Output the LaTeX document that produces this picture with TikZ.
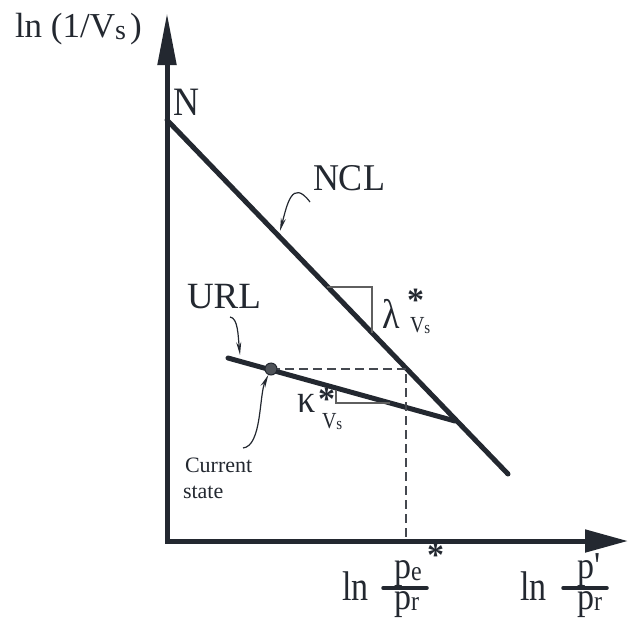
\documentclass[tikz,border=0pt]{standalone}
\usepackage{fontspec}
\setmainfont{Liberation Serif}
\usepackage{graphicx}
\usetikzlibrary{arrows.meta}
\definecolor{ink}{RGB}{35,40,48}
\definecolor{thin}{RGB}{95,95,95}
\newcommand{\fs}[1]{\fontsize{#1}{#1}\selectfont}
\newcommand{\vst}[2]{\scalebox{1}[#1]{#2}}
\begin{document}
\begin{tikzpicture}[x=1pt,y=-1pt,
  lbl/.style={inner sep=0pt, outer sep=0pt, anchor=base west, text=ink},
  mainline/.style={draw=ink, line width=5pt, line cap=round},
  axisline/.style={draw=ink, line width=5pt, line join=miter},
  guide/.style={draw=thin, line width=1.2pt},
  dashline/.style={draw=ink!85, line width=1.3pt, dash pattern=on 9pt off 5pt},
  fracbar/.style={draw=ink, line width=3.5pt, line cap=round},
  pointer/.style={draw=ink, line width=1.2pt, -{Stealth[length=13pt,width=5pt]}},
  statept/.style={circle, minimum size=12pt, inner sep=0pt, fill=ink!80, draw=ink, line width=1pt}
]
\useasboundingbox (0,0) rectangle (631,619);

% axes
\coordinate (O) at (167,541);
\coordinate (Ytip) at (167,13);
\coordinate (Xtip) at (628,541);
\draw[axisline, {Triangle[length=52pt,width=18pt]}-{Triangle[length=43pt,width=22pt]}] (Ytip) -- (O) -- (Xtip);

% NCL and URL
\coordinate (Nstart) at (167,120);
\coordinate (Nend) at (508,474);
\coordinate (Ustart) at (228,358);
\coordinate (Umeet) at (455,421);
\draw[mainline] (Nstart) -- (Nend);
\draw[mainline] (Ustart) -- (Umeet);

% slope triangles
\coordinate (la1) at (327,287);
\coordinate (la2) at (372,287);
\coordinate (la3) at (372,333);
\draw[guide] (la1) -- (la2) -- (la3);
\coordinate (ka1) at (336,390);
\coordinate (ka2) at (336,403);
\coordinate (ka3) at (390,403);
\draw[guide] (ka1) -- (ka2) -- (ka3);

% dashed projection
\coordinate (dc) at (406,369);
\coordinate (dx) at (406,541);
\coordinate (dstart) at (271,369);
\draw[dashline] (dstart) -- (dc) -- (dx);

% current state point
\node[statept] (st) at (271,369) {};

% labels
\node[lbl] (ylab) at (15,37) {\fs{35}ln (1/V{\fs{28}\raisebox{-2pt}{s}}\kern4pt)};
\node[lbl] (N) at (173,115) {\fs{36}\vst{1.12}{N}};
\node[lbl] (ncl) at (313,190) {\fs{36}\vst{1.05}{NCL}};
\node[lbl] (url) at (187,308) {\fs{37}URL};
\node[lbl] (lam) at (382,328) {\fs{36}\vst{1.15}{λ}};
\node[lbl] (lamst) at (407,311) {\fs{34}\bfseries *};
\node[lbl] (lamsub) at (410,332) {\fs{20}\vst{1.15}{V{\fs{15}\raisebox{-1pt}{s}}}};
\node[lbl] (kap) at (297,412) {\fs{36}\vst{1.1}{κ}};
\node[lbl] (kapst) at (318,410) {\fs{34}\bfseries *};
\node[lbl] (kapsub) at (322,428) {\fs{20}\vst{1.15}{V{\fs{15}\raisebox{-1pt}{s}}}};
\node[lbl] (cur) at (185,472) {\fs{22}Current};
\node[lbl] (sta) at (183,498) {\fs{22}state};

% bottom labels
\node[lbl] (ln1) at (342,600) {\fs{34}\vst{1.22}{ln}};
\node[lbl] (pe) at (394,578) {\fs{34}\vst{1.12}{p}{\fs{24}\raisebox{-2pt}{\vst{1.15}{e}}}};
\node[lbl] (pest) at (427,566) {\fs{34}\bfseries *};
\node[lbl] (pr1) at (394,609) {\fs{34}\vst{1.12}{p}{\fs{24}\raisebox{-1pt}{\vst{1.15}{r}}}};
\coordinate (b1a) at (383,588);
\coordinate (b1b) at (427,588);
\draw[fracbar] (b1a) -- (b1b);

\node[lbl] (ln2) at (520,600) {\fs{34}\vst{1.22}{ln}};
\node[lbl] (pp) at (577,578) {\fs{34}\vst{1.12}{p\kern1pt\textquotesingle}};
\node[lbl] (pr2) at (577,609) {\fs{34}\vst{1.12}{p}{\fs{24}\raisebox{-1pt}{\vst{1.15}{r}}}};
\coordinate (b2a) at (563,588);
\coordinate (b2b) at (607,588);
\draw[fracbar] (b2a) -- (b2b);

% pointers
\coordinate (nclp) at (280,231);
\draw[pointer] ([xshift=-3pt,yshift=-12pt]ncl.base west) .. controls (292,178) and (287,205) .. (nclp);
\coordinate (urlp0) at (230,317);
\coordinate (urlp) at (240,355);
\draw[pointer] (urlp0) .. controls (238,318) and (238,335) .. (urlp);
\coordinate (cs0) at (243,448);
\draw[pointer] (cs0) .. controls (262,446) and (259,395) .. (st);
\end{tikzpicture}
\end{document}
